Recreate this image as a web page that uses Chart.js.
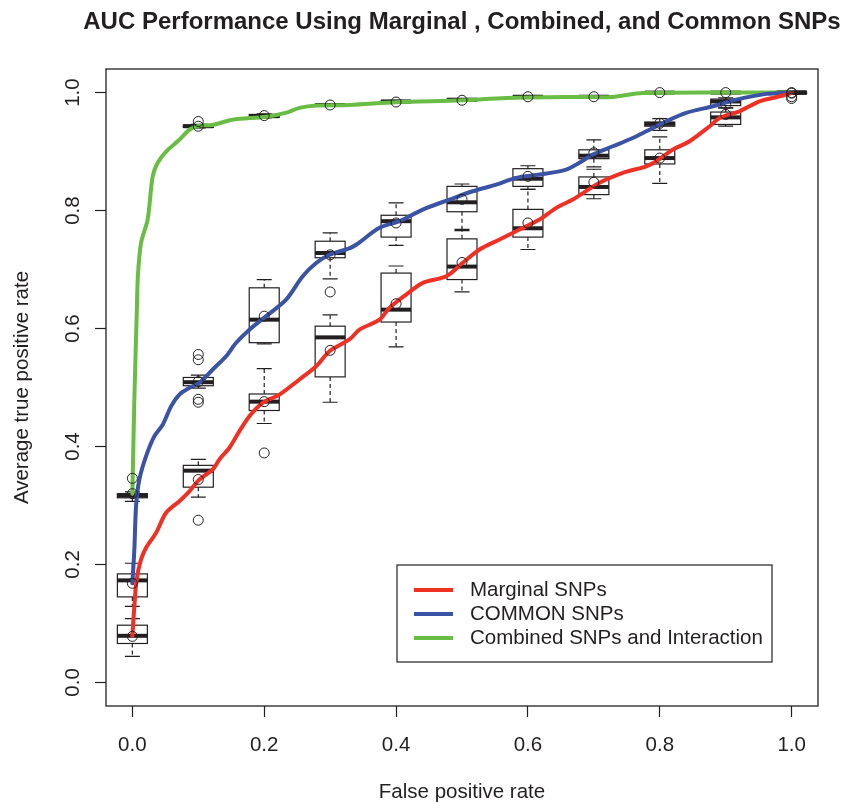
<!DOCTYPE html>
<html><head><meta charset="utf-8">
<script src="https://cdn.jsdelivr.net/npm/chart.js@4.4.1/dist/chart.umd.min.js"></script>
<style>html,body{margin:0;padding:0;background:#fff;}#wrap{width:842px;height:803px;}</style>
</head><body><div id="wrap"><canvas id="c" width="842" height="803"></canvas></div>
<script>
// ---------- data ----------
const chartTitle = 'AUC Performance Using Marginal , Combined, and Common SNPs';
const xTitle = 'False positive rate';
const yTitle = 'Average true positive rate';
const tickValues = [0, 0.2, 0.4, 0.6, 0.8, 1.0];
const tickLabels = ['0.0', '0.2', '0.4', '0.6', '0.8', '1.0'];
const seriesNames = ['Marginal SNPs', 'COMMON SNPs', 'Combined SNPs and Interaction'];
const seriesColors = ['#ee3124', '#3b53a4', '#69bd45'];
const boxPositions = [0, 0.1, 0.2, 0.3, 0.4, 0.5, 0.6, 0.7, 0.8, 0.9, 1.0];

// [lower whisker, Q1, median, Q3, upper whisker]
const marginalBox = [
  [0.044, 0.066, 0.079, 0.097, 0.108], [0.314, 0.331, 0.359, 0.368, 0.378],
  [0.439, 0.461, 0.476, 0.489, 0.532], [0.475, 0.518, 0.585, 0.604, 0.623],
  [0.569, 0.611, 0.632, 0.694, 0.706], [0.662, 0.683, 0.705, 0.752, 0.766],
  [0.734, 0.755, 0.770, 0.802, 0.836], [0.820, 0.827, 0.840, 0.857, 0.870],
  [0.846, 0.879, 0.889, 0.903, 0.925], [0.943, 0.946, 0.958, 0.967, 0.974],
  [0.997, 0.999, 1.000, 1.000, 1.000]];
const commonBox = [
  [0.129, 0.145, 0.173, 0.184, 0.202], [0.499, 0.503, 0.509, 0.517, 0.521],
  [0.574, 0.576, 0.615, 0.669, 0.683], [0.684, 0.720, 0.728, 0.748, 0.762],
  [0.741, 0.755, 0.782, 0.792, 0.813], [0.768, 0.798, 0.814, 0.841, 0.845],
  [0.836, 0.841, 0.854, 0.871, 0.876], [0.874, 0.888, 0.893, 0.903, 0.920],
  [0.936, 0.943, 0.947, 0.950, 0.956], [0.974, 0.978, 0.985, 0.989, 0.991],
  [1.000, 1.000, 1.000, 1.000, 1.000]];
const combinedBox = [
  [0.307, 0.313, 0.317, 0.320, 0.323], [0.940, 0.941, 0.943, 0.945, 0.946],
  [0.957, 0.958, 0.960, 0.963, 0.964], [0.977, 0.978, 0.979, 0.980, 0.981],
  [0.982, 0.983, 0.985, 0.986, 0.987], [0.985, 0.986, 0.988, 0.989, 0.990],
  [0.991, 0.992, 0.993, 0.994, 0.995], [0.992, 0.992, 0.993, 0.994, 0.994],
  [1.000, 1.000, 1.000, 1.000, 1.000], [1.000, 1.000, 1.000, 1.000, 1.000],
  [1.000, 1.000, 1.000, 1.000, 1.000]];

const marginalMean = [0.078, 0.344, 0.476, 0.563, 0.642, 0.712, 0.779, 0.848, 0.889, 0.963, 0.993];
const commonMean   = [0.168, 0.510, 0.621, 0.725, 0.779, 0.819, 0.858, 0.898, 0.948, 0.980, 0.999];
const combinedMean = [0.320, 0.943, 0.961, 0.979, 0.984, 0.987, 0.993, 0.993, 1.000, 1.000, 1.000];

const outlierX = [0.1, 0.2, 1.0, 0.1, 0.1, 0.1, 0.1, 0.3, 0.0, 0.1];
const outlierY = [0.275, 0.389, 0.990, 0.556, 0.547, 0.480, 0.475, 0.662, 0.346, 0.951];

const marginalRocX = [0, 0.003, 0.0065, 0.0132, 0.0208, 0.036, 0.0511, 0.0713, 0.0865, 0.1017, 0.1219, 0.132, 0.1472, 0.1624, 0.1775, 0.1977, 0.2231, 0.2534, 0.2788, 0.299, 0.3293, 0.3445, 0.3748, 0.39, 0.4153, 0.4405, 0.476, 0.5012, 0.5266, 0.557, 0.5873, 0.6176, 0.643, 0.668, 0.7086, 0.744, 0.7795, 0.7947, 0.82, 0.8452, 0.8756, 0.8907, 0.921, 0.9514, 0.9818, 1.0];
const marginalRocY = [0.0785, 0.129, 0.1746, 0.2085, 0.2283, 0.2537, 0.2876, 0.3073, 0.324, 0.344, 0.361, 0.378, 0.3978, 0.426, 0.4514, 0.474, 0.488, 0.5136, 0.536, 0.5615, 0.5814, 0.598, 0.615, 0.635, 0.6576, 0.6775, 0.6886, 0.7114, 0.7339, 0.751, 0.7678, 0.7847, 0.8046, 0.8186, 0.847, 0.8639, 0.875, 0.8836, 0.9034, 0.9175, 0.9429, 0.957, 0.9683, 0.9853, 0.9937, 0.9995];
const commonRocX = [0, 0.003, 0.0056, 0.0106, 0.0208, 0.0334, 0.046, 0.0587, 0.0713, 0.0865, 0.1017, 0.1219, 0.1422, 0.1574, 0.1775, 0.2029, 0.2332, 0.2584, 0.2788, 0.299, 0.329, 0.3395, 0.3748, 0.405, 0.4405, 0.481, 0.5164, 0.5519, 0.582, 0.6176, 0.658, 0.678, 0.6985, 0.7288, 0.759, 0.7795, 0.8047, 0.84, 0.8806, 0.916, 0.9616, 1.0];
const commonRocY = [0.168, 0.225, 0.299, 0.344, 0.3836, 0.4175, 0.437, 0.468, 0.488, 0.4995, 0.508, 0.5305, 0.553, 0.5758, 0.598, 0.621, 0.649, 0.6886, 0.711, 0.725, 0.736, 0.742, 0.7707, 0.782, 0.8017, 0.8186, 0.8327, 0.844, 0.8554, 0.861, 0.8695, 0.881, 0.895, 0.909, 0.923, 0.9344, 0.9486, 0.9656, 0.9768, 0.988, 0.9978, 1.0];
const combinedRocX = [0, 0.003, 0.0068, 0.0083, 0.0131, 0.0232, 0.0308, 0.0384, 0.0511, 0.0713, 0.0865, 0.1017, 0.121, 0.1517, 0.2033, 0.2337, 0.2534, 0.279, 0.329, 0.400, 0.501, 0.567, 0.678, 0.728, 0.774, 1.0];
const combinedRocY = [0.320, 0.480, 0.632, 0.688, 0.745, 0.785, 0.858, 0.881, 0.900, 0.920, 0.937, 0.944, 0.945, 0.954, 0.959, 0.966, 0.974, 0.978, 0.979, 0.9836, 0.987, 0.991, 0.9927, 0.9927, 0.9995, 1.0];

// ---------- build ----------
const INK = '#231f20';
const FONT = '"Liberation Sans", Arial, Helvetica, sans-serif';
const boxes = [marginalBox, commonBox, combinedBox];
const means = [marginalMean, commonMean, combinedMean];
const rocX = [marginalRocX, commonRocX, combinedRocX];
const rocY = [marginalRocY, commonRocY, combinedRocY];

const datasets = [];
means.forEach((m, s) => datasets.push({
  type: 'scatter', label: 'mean' + s, order: 0,
  data: boxPositions.map((x, i) => ({x, y: m[i]})),
  pointStyle: 'circle', pointRadius: 5, pointHoverRadius: 5,
  borderColor: INK, backgroundColor: 'rgba(0,0,0,0)', borderWidth: 1, showLine: false
}));
datasets.push({
  type: 'scatter', label: 'outliers', order: 0,
  data: outlierX.map((x, i) => ({x, y: outlierY[i]})),
  pointStyle: 'circle', pointRadius: 5, pointHoverRadius: 5,
  borderColor: INK, backgroundColor: 'rgba(0,0,0,0)', borderWidth: 1, showLine: false
});
seriesNames.forEach((name, s) => datasets.push({
  type: 'line', label: name, order: 1, isLegend: true,
  data: rocX[s].map((x, i) => ({x, y: rocY[s][i]})),
  borderColor: seriesColors[s], backgroundColor: seriesColors[s],
  borderWidth: 4, pointRadius: 0, tension: 0.3, fill: false,
  borderCapStyle: 'round', borderJoinStyle: 'round'
}));

const rPlot = {
  id: 'rplot',
  beforeDatasetsDraw(chart) {
    const {ctx, scales: {x, y}} = chart;
    ctx.save();
    ctx.strokeStyle = INK;
    boxes.forEach(bx => {
      bx.forEach((b, i) => {
        const [lo, q1, med, q3, hi] = b;
        const px = x.getPixelForValue(boxPositions[i]);
        const hw = 15, cw = 7.5;
        const yLo = y.getPixelForValue(lo), y1 = y.getPixelForValue(q1),
              yM = y.getPixelForValue(med), y3 = y.getPixelForValue(q3),
              yHi = y.getPixelForValue(hi);
        ctx.lineWidth = 1.2;
        ctx.setLineDash([4, 3]);
        ctx.beginPath();
        ctx.moveTo(px, y3); ctx.lineTo(px, yHi);
        ctx.moveTo(px, y1); ctx.lineTo(px, yLo);
        ctx.stroke();
        ctx.setLineDash([]);
        ctx.beginPath();
        ctx.moveTo(px - cw, yHi); ctx.lineTo(px + cw, yHi);
        ctx.moveTo(px - cw, yLo); ctx.lineTo(px + cw, yLo);
        ctx.stroke();
        ctx.strokeRect(px - hw, y3, 2 * hw, y1 - y3);
        ctx.lineWidth = 4;
        ctx.lineCap = 'butt';
        ctx.beginPath();
        ctx.moveTo(px - hw, yM); ctx.lineTo(px + hw, yM);
        ctx.stroke();
      });
    });
    ctx.restore();
  },
  afterDraw(chart) {
    const {ctx, chartArea: a, scales: {y}} = chart;
    ctx.save();
    // frame
    ctx.strokeStyle = INK; ctx.lineWidth = 1.3;
    ctx.strokeRect(a.left, a.top, a.right - a.left, a.bottom - a.top);
    ctx.fillStyle = INK;
    // title
    ctx.font = 'bold 24px ' + FONT;
    ctx.textAlign = 'center'; ctx.textBaseline = 'middle';
    ctx.fillText(chartTitle, (a.left + a.right) / 2, 22);
    // x title
    ctx.font = '20.5px ' + FONT;
    ctx.fillText(xTitle, (a.left + a.right) / 2, 792);
    // y tick labels (rotated as in R)
    y.ticks.forEach((t, i) => {
      const py = y.getPixelForValue(t.value);
      ctx.save(); ctx.translate(73, py); ctx.rotate(-Math.PI / 2);
      ctx.fillText(tickLabels[i], 0, 0); ctx.restore();
    });
    // y title
    ctx.save(); ctx.translate(22, (a.top + a.bottom) / 2); ctx.rotate(-Math.PI / 2);
    ctx.fillText(yTitle, 0, 0); ctx.restore();
    // legend
    const lx = 397, ly = 565, lw = 375, lh = 97;
    ctx.fillStyle = '#fff';
    ctx.fillRect(lx, ly, lw, lh);
    ctx.strokeStyle = INK; ctx.lineWidth = 1.2;
    ctx.strokeRect(lx, ly, lw, lh);
    const legendSets = chart.data.datasets.filter(d => d.isLegend);
    legendSets.forEach((d, i) => {
      const ry = 590 + i * 24;
      ctx.strokeStyle = d.borderColor; ctx.lineWidth = 4; ctx.lineCap = 'butt';
      ctx.beginPath(); ctx.moveTo(414, ry); ctx.lineTo(453, ry); ctx.stroke();
      ctx.fillStyle = INK; ctx.textAlign = 'left'; ctx.textBaseline = 'middle';
      ctx.font = '20.5px ' + FONT;
      ctx.fillText(d.label, 470, ry);
    });
    ctx.restore();
  }
};

const axisCommon = {
  type: 'linear', min: -0.04, max: 1.04,
  afterBuildTicks: s => { s.ticks = tickValues.map(v => ({value: v})); },
  border: {display: false},
  grid: {drawOnChartArea: false, drawTicks: true, tickLength: 11, color: INK, tickColor: INK, tickWidth: 1.2}
};

new Chart(document.getElementById('c'), {
  data: {datasets},
  options: {
    responsive: false, animation: false, devicePixelRatio: 1,
    layout: {padding: {left: 0, right: 24, top: 69, bottom: 0}},
    plugins: {legend: {display: false}, tooltip: {enabled: false}, title: {display: false}},
    scales: {
      x: Object.assign({}, axisCommon, {
        position: 'bottom',
        ticks: {display: true, autoSkip: false, maxRotation: 0, minRotation: 0, padding: 16,
                color: INK, font: {family: FONT, size: 20.5},
                callback: (v, i) => tickLabels[i]},
        afterFit: s => { s.height = 97; }
      }),
      y: Object.assign({}, axisCommon, {
        position: 'left',
        ticks: {display: false},
        afterFit: s => { s.width = 106; }
      })
    }
  },
  plugins: [rPlot]
});
</script></body></html>
